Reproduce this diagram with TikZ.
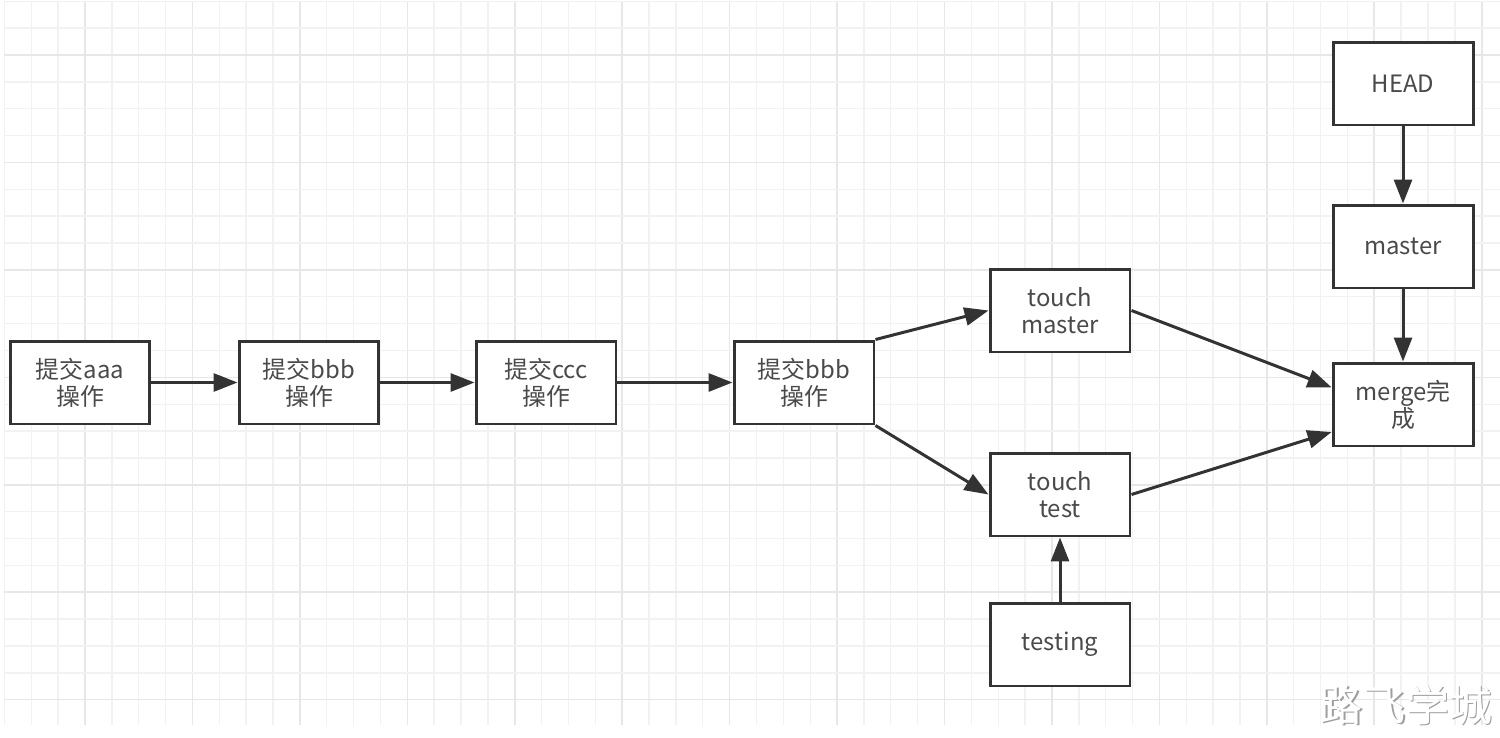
\documentclass[tikz,border=0pt]{standalone}
\usepackage{fontspec}
\setmainfont{Noto Sans CJK SC}
\newfontfamily\cjk{Noto Sans CJK SC}
\usetikzlibrary{arrows.meta,calc}
\definecolor{minorgrid}{HTML}{F2F2F2}
\definecolor{majorgrid}{HTML}{E7E7E7}
\definecolor{ink}{HTML}{333333}
\definecolor{label}{HTML}{4A4A4A}
\tikzset{
  box/.style={draw=ink, line width=1.7pt, fill=white, minimum width=2.8cm,
    minimum height=1.66cm, inner sep=0pt, align=center, text=label,
    font=\cjk\fontsize{13.6}{15.3}\selectfont},
  link/.style={draw=ink, line width=1.7pt,
    -{Triangle[length=0.48cm, width=0.36cm]}},
}
\begin{document}
\begin{tikzpicture}[x=0.02cm, y=-0.02cm]
\useasboundingbox (0,0) rectangle (1500,737);
\fill[white] (0,0) rectangle (1500,737);
% background grid: thin lines, every fourth one darker
\foreach \k in {0,...,55} {
  \pgfmathsetmacro{\gx}{4.4+\k*26.86}
  \pgfmathtruncatemacro{\m}{mod(\k+1,4)}
  \ifnum\m=0
    \draw[majorgrid, line width=0.9pt] (\gx,1.3) -- (\gx,725);
  \else
    \draw[minorgrid, line width=0.8pt] (\gx,1.3) -- (\gx,725);
  \fi
}
\foreach \k in {0,...,26} {
  \pgfmathsetmacro{\gy}{1.3+\k*26.86}
  \pgfmathtruncatemacro{\m}{mod(\k+2,4)}
  \ifnum\m=0
    \draw[majorgrid, line width=0.9pt] (4.4,\gy) -- (1500,\gy);
  \else
    \draw[minorgrid, line width=0.8pt] (4.4,\gy) -- (1500,\gy);
  \fi
}

% commit chain
\node[box] (c1) at (80,382.5) {提交aaa\\操作};
\node[box] (c2) at (309,382.5) {提交bbb\\操作};
\node[box] (c3) at (546,382.5) {提交ccc\\操作};
\node[box] (c4) at (804,382.5) {提交bbb\\操作};
% branches
\node[box] (tm) at (1060,310.5) {touch\\master};
\node[box] (tt) at (1060,494.5) {touch\\test};
\node[box] (testing) at (1060,644.5) {testing};
\node[box] (head) at (1403,83.5) {HEAD};
\node[box] (master) at (1403,246.5) {master};
\node[box] (merge) at (1403,404.5) {merge完\\成};

\draw[link] (c1) -- (c2);
\draw[link] (c2) -- (c3);
\draw[link] (c3) -- (c4);
\draw[link] (c4.north east) -- (tm.west);
\draw[link] (c4.south east) -- (tt.west);
\draw[link] (testing) -- (tt);
\draw[link] (head) -- (master);
\draw[link] (master) -- (merge);
\coordinate (mergeA) at ($(merge.north west)!0.3!(merge.south west)$);
\coordinate (mergeB) at ($(merge.north west)!0.82!(merge.south west)$);
\draw[link] (tm.east) -- (mergeA);
\draw[link] (tt.east) -- (mergeB);

% embossed caption in the corner
\node[text=black!38, font=\cjk\fontsize{24.5}{24.5}\selectfont] (markshadow) at (1407.5,706.5) {路飞学城};
\node[text=white, font=\cjk\fontsize{24.5}{24.5}\selectfont] (mark) at (1406,705) {路飞学城};
\end{tikzpicture}
\end{document}
